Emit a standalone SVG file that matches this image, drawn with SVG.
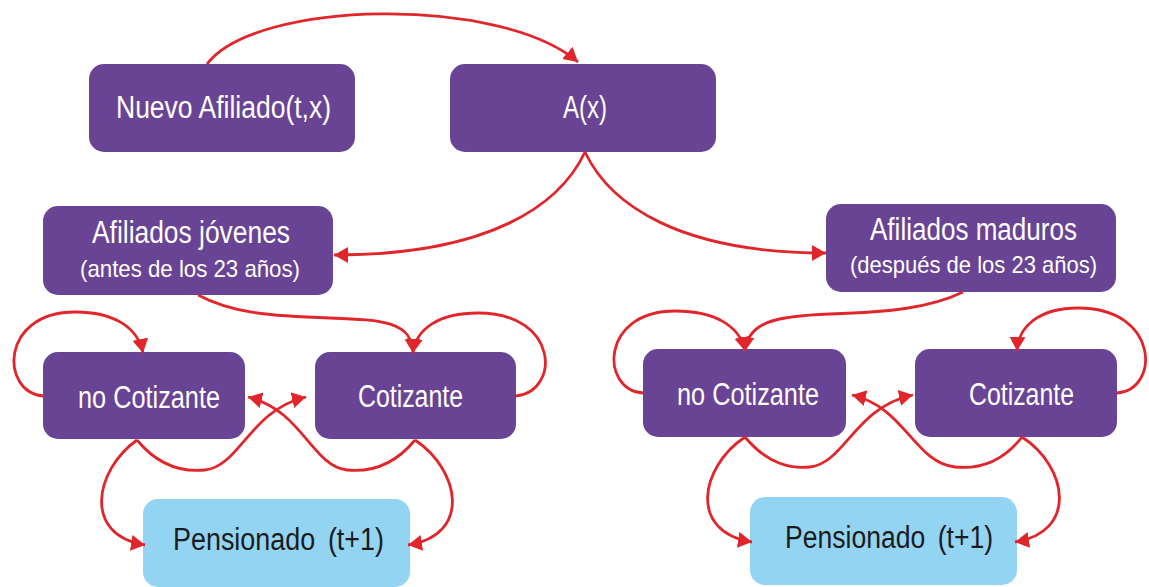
<svg xmlns="http://www.w3.org/2000/svg" width="1149" height="587" viewBox="0 0 1149 587">
<style>
.box{fill:#6a4494}
.pen{fill:#94d4f3}
.t{font-family:"Liberation Sans",Arial,sans-serif;font-size:31px;fill:#ffffff}
.s{font-size:24px}
.d{fill:#1b1b1b;word-spacing:6px}
.c{fill:none;stroke:#e1262b;stroke-width:2.8}
</style>
<defs>
<marker id="ah" markerUnits="userSpaceOnUse" markerWidth="17" markerHeight="17" refX="14" refY="8" orient="auto">
<path d="M0,0 L14,8 L0,16 z" fill="#e1262b"/>
</marker>
</defs>
<rect width="1149" height="587" fill="#ffffff"/>
<g id="nuevo"><rect class="box" x="89" y="64" width="266" height="88" rx="15"/><text class="t" x="116" y="118" textLength="215" lengthAdjust="spacingAndGlyphs">Nuevo Afiliado(t,x)</text></g>
<g id="ax"><rect class="box" x="450" y="64" width="266" height="88" rx="15"/><text class="t" x="563" y="118" textLength="44" lengthAdjust="spacingAndGlyphs">A(x)</text></g>
<g id="jovenes"><rect class="box" x="43" y="206" width="290" height="89" rx="15"/><text class="t" x="92" y="243" textLength="198" lengthAdjust="spacingAndGlyphs">Afiliados jóvenes</text><text class="t s" x="80" y="277" textLength="220" lengthAdjust="spacingAndGlyphs">(antes de los 23 años)</text></g>
<g id="maduros"><rect class="box" x="826" y="204" width="290" height="88" rx="15"/><text class="t" x="870" y="240" textLength="207" lengthAdjust="spacingAndGlyphs">Afiliados maduros</text><text class="t s" x="850" y="273" textLength="247" lengthAdjust="spacingAndGlyphs">(después de los 23 años)</text></g>
<g id="nocot-j"><rect class="box" x="43" y="352" width="202" height="87" rx="15"/><text class="t" x="78" y="408" textLength="142" lengthAdjust="spacingAndGlyphs">no Cotizante</text></g>
<g id="cot-j"><rect class="box" x="315" y="352" width="201" height="87" rx="15"/><text class="t" x="358" y="407" textLength="105" lengthAdjust="spacingAndGlyphs">Cotizante</text></g>
<g id="pens-j"><rect class="pen" x="143" y="499" width="267" height="88" rx="15"/><text class="t d" x="173" y="550" textLength="211" lengthAdjust="spacingAndGlyphs">Pensionado (t+1)</text></g>
<g id="nocot-m"><rect class="box" x="643" y="349" width="203" height="88" rx="15"/><text class="t" x="677" y="405" textLength="142" lengthAdjust="spacingAndGlyphs">no Cotizante</text></g>
<g id="cot-m"><rect class="box" x="915" y="349" width="202" height="88" rx="15"/><text class="t" x="969" y="405" textLength="105" lengthAdjust="spacingAndGlyphs">Cotizante</text></g>
<g id="pens-m"><rect class="pen" x="750" y="497" width="267" height="88" rx="15"/><text class="t d" x="785" y="548" textLength="208" lengthAdjust="spacingAndGlyphs">Pensionado (t+1)</text></g>
<g id="connectors">
<path class="c" marker-end="url(#ah)" d="M207,64 C255,0 500,-5 578,62"/>
<path class="c" marker-end="url(#ah)" d="M585,152 C560,205 490,255 334,255"/>
<path class="c" marker-end="url(#ah)" d="M585,152 C610,205 680,253 826,253"/>
<path class="c" marker-end="url(#ah)" d="M198,295 C230,312 265,316 330,318 C385,320 412,322 413,353"/>
<path class="c" marker-end="url(#ah)" d="M43,396 C0,392 0,312 75,312 C115,312 138,328 143,353"/>
<path class="c" marker-end="url(#ah)" d="M516,396 C560,392 560,313 478,313 C440,313 416,328 413,353"/>
<path class="c" marker-end="url(#ah)" d="M137,440 C160,468 185,472 205,470 C240,466 250,410 306,397"/>
<path class="c" marker-end="url(#ah)" d="M415,440 C392,468 367,472 347,470 C312,466 302,410 248,397"/>
<path class="c" marker-end="url(#ah)" d="M137,440 C95,470 82,535 145,545"/>
<path class="c" marker-end="url(#ah)" d="M415,440 C460,470 472,535 408,545"/>
<path class="c" marker-end="url(#ah)" d="M963,292 C930,308 890,312 830,314 C775,316 748,322 745,351"/>
<path class="c" marker-end="url(#ah)" d="M643,393 C600,390 600,311 675,311 C715,311 740,326 745,351"/>
<path class="c" marker-end="url(#ah)" d="M1117,393 C1160,390 1160,308 1078,308 C1040,308 1018,326 1017,351"/>
<path class="c" marker-end="url(#ah)" d="M745,437 C768,465 793,469 810,467 C845,463 855,407 913,395"/>
<path class="c" marker-end="url(#ah)" d="M1022,437 C1000,465 975,469 955,467 C915,463 905,407 852,395"/>
<path class="c" marker-end="url(#ah)" d="M745,437 C700,467 688,532 752,542"/>
<path class="c" marker-end="url(#ah)" d="M1022,437 C1068,467 1078,532 1015,542"/>
</g>
</svg>
